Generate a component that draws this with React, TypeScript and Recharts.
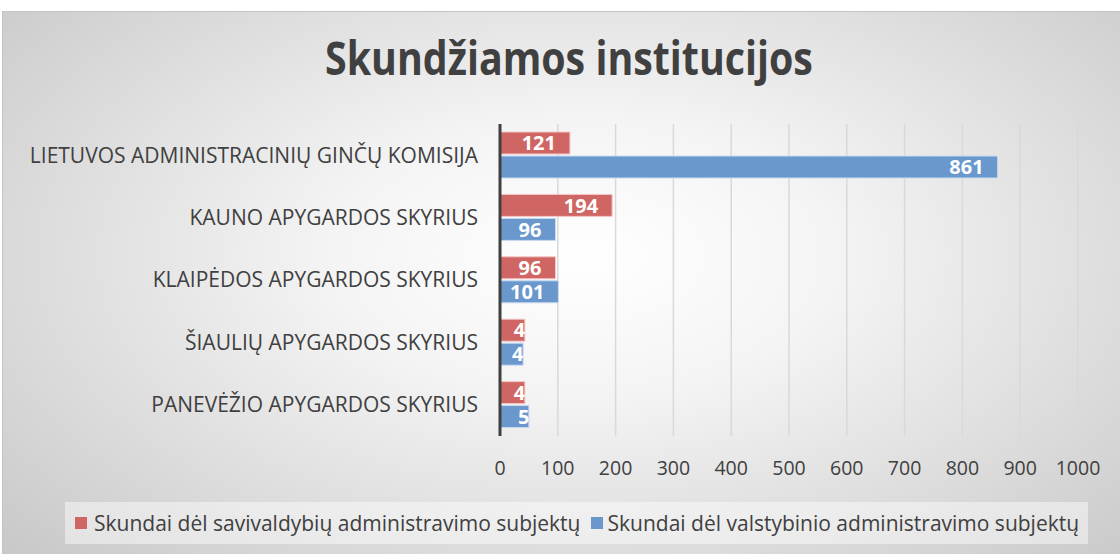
import { BarChart, Bar, XAxis, YAxis, CartesianGrid, LabelList } from "recharts";

const categories = [
  "LIETUVOS ADMINISTRACINIŲ GINČŲ KOMISIJA",
  "KAUNO APYGARDOS SKYRIUS",
  "KLAIPĖDOS APYGARDOS SKYRIUS",
  "ŠIAULIŲ APYGARDOS SKYRIUS",
  "PANEVĖŽIO APYGARDOS SKYRIUS",
];
const savivaldybiu = [121, 194, 96, 43, 43];
const valstybinio = [861, 96, 101, 40, 50];
const xTicks = [0, 100, 200, 300, 400, 500, 600, 700, 800, 900, 1000];

const seriesNames = {
  savivaldybiu: "Skundai dėl savivaldybių administravimo subjektų",
  valstybinio: "Skundai dėl valstybinio administravimo subjektų",
};

const RED = "#D06663";
const BLUE = "#6A97CC";
const FONT = "'Open Sans', sans-serif";
const TEXT = "#404040";

const data = categories.map((name, i) => ({
  name,
  savivaldybiu: savivaldybiu[i],
  valstybinio: valstybinio[i],
}));

// Excel-like "inside end" label: white text, clipped to the bar so overflow vanishes
function BarValue(props: any) {
  const { x, y, width, height, value } = props;
  const id = `clip-${Math.round(x)}-${Math.round(y)}`;
  const fits = width > 45;
  const tx = fits ? x + width - 14 : x + width - 11;
  return (
    <g>
      <defs>
        <clipPath id={id}>
          <rect x={x} y={y} width={width} height={height} />
        </clipPath>
      </defs>
      <text
        x={tx}
        y={y + height / 2}
        dy="0.36em"
        textAnchor={fits ? "end" : "start"}
        fill="#fff"
        fontSize={20}
        fontWeight={700}
        fontFamily={FONT}
        clipPath={`url(#${id})`}
      >
        {value}
      </text>
    </g>
  );
}

export default function App() {
  return (
    <div style={{ position: "absolute", left: 0, top: 0, width: 1120, height: 554, background: "#fff", overflow: "hidden" }}>
      {/* chart area background */}
      <div
        style={{
          position: "absolute",
          left: 2,
          top: 11,
          width: 1118,
          height: 543,
          borderTop: "1px solid #c4c4c4",
          borderLeft: "1px solid #c4c4c4",
          background: "radial-gradient(ellipse 75% 85% at 52% 45%, #ffffff 0%, #f4f4f4 30%, #c4c4c4 100%)",
        }}
      />
      <div
        style={{
          position: "absolute",
          left: 0,
          top: 27,
          width: 1138,
          textAlign: "center",
          fontFamily: FONT,
          fontWeight: 700,
          fontSize: 46,
          lineHeight: "60px",
          color: TEXT,
          transform: "scaleX(0.855)",
        }}
      >
        Skundžiamos institucijos
      </div>
      <div style={{ position: "absolute", left: 0, top: 0 }}>
        <BarChart
          width={1120}
          height={554}
          data={data}
          layout="vertical"
          margin={{ top: 124, right: 42, bottom: 78, left: 0 }}
          barCategoryGap="13%"
          barGap={2}
        >
          <CartesianGrid horizontal={false} stroke="#d9d9d9" strokeWidth={1.5} />
          <XAxis
            type="number"
            domain={[0, 1000]}
            ticks={xTicks}
            axisLine={false}
            tickLine={false}
            tickSize={0}
            tickMargin={25}
            height={40}
            tick={{ fill: TEXT, fontSize: 19.5, fontFamily: FONT }}
          />
          <YAxis
            type="category"
            dataKey="name"
            width={500}
            axisLine={{ stroke: TEXT, strokeWidth: 3 }}
            tickLine={false}
            tickSize={0}
            tickMargin={22}
            tick={{ fill: TEXT, fontSize: 21, fontFamily: FONT }}
          />
          <Bar dataKey="savivaldybiu" fill={RED} stroke="#f2c9c8" strokeWidth={1} barSize={22} isAnimationActive={false}>
            <LabelList dataKey="savivaldybiu" content={BarValue} />
          </Bar>
          <Bar dataKey="valstybinio" fill={BLUE} stroke="#c9dbf0" strokeWidth={1} barSize={22} isAnimationActive={false}>
            <LabelList dataKey="valstybinio" content={BarValue} />
          </Bar>
        </BarChart>
      </div>
      <div
        style={{
          position: "absolute",
          left: 65,
          top: 502,
          width: 1023,
          height: 42,
          background: "rgba(255,255,255,0.45)",
          display: "flex",
          alignItems: "center",
          fontFamily: FONT,
          fontSize: 21,
          color: TEXT,
          whiteSpace: "nowrap",
        }}
      >
        <span style={{ display: "inline-block", width: 12, height: 12, background: RED, marginLeft: 10, marginRight: 7 }} />
        <span>{seriesNames.savivaldybiu}</span>
        <span style={{ display: "inline-block", width: 12, height: 12, background: BLUE, marginLeft: 10, marginRight: 5 }} />
        <span>{seriesNames.valstybinio}</span>
      </div>
    </div>
  );
}
